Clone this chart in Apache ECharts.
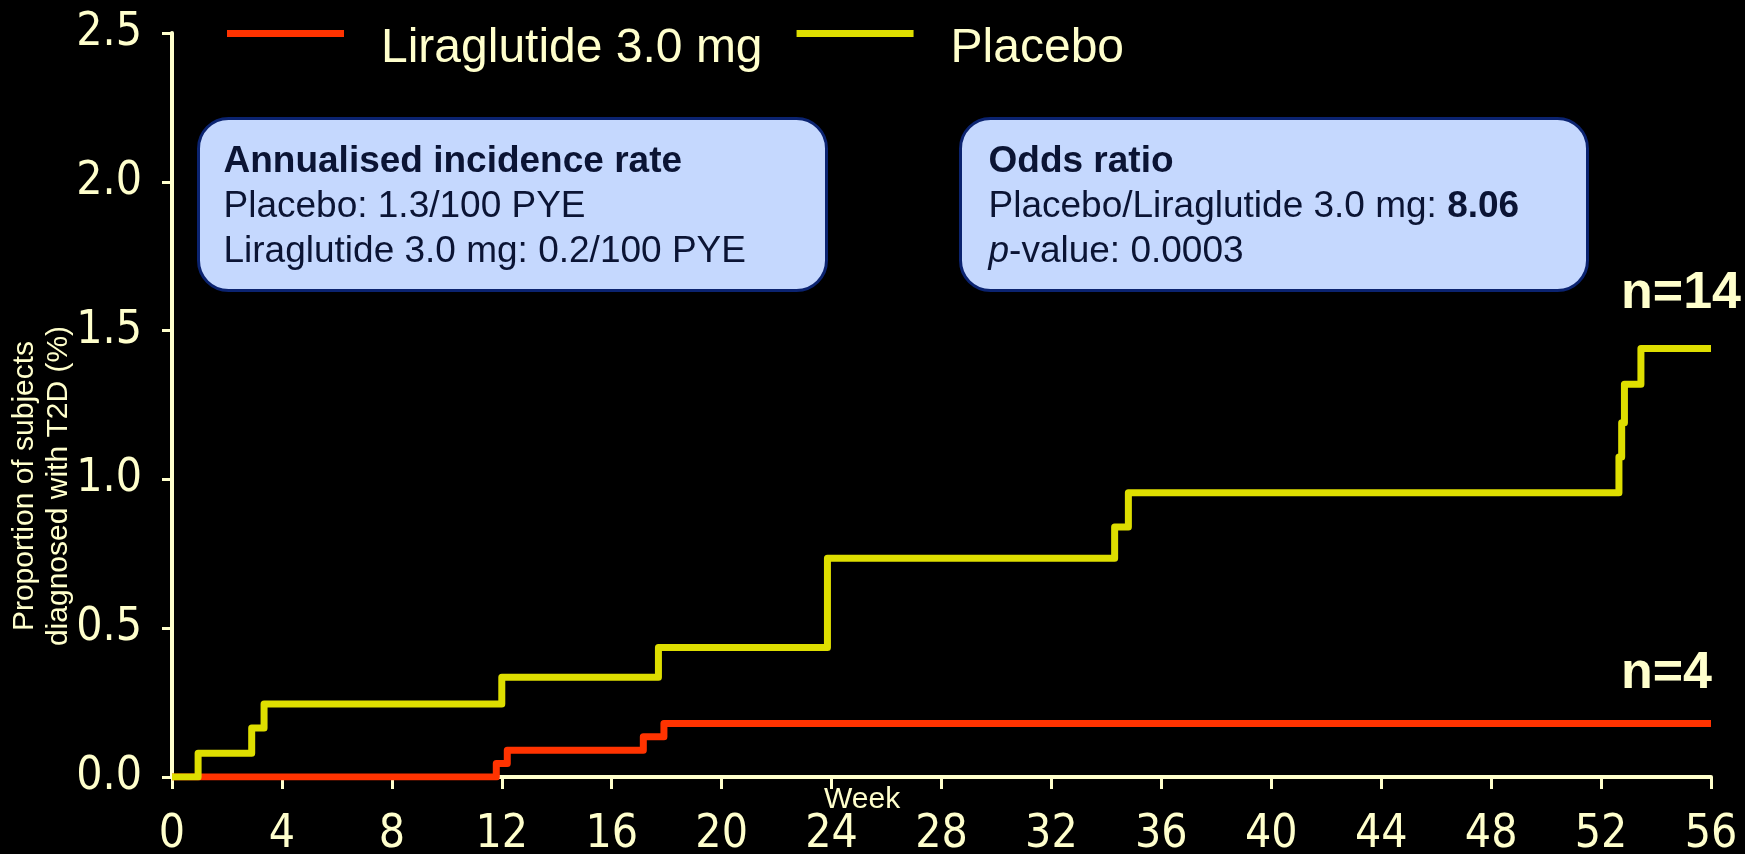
<!DOCTYPE html>
<html>
<head>
<meta charset="utf-8">
<script src="https://cdn.jsdelivr.net/npm/echarts@6/dist/echarts.min.js"></script>
<style>
  html, body { margin: 0; padding: 0; background: #000; }
  #chart { width: 1745px; height: 854px; }
</style>
</head>
<body>
<div id="chart"></div>
<script>
// week of each step and the cumulative proportion (%) after it
var placeboWeeks = [0, 0.95, 2.9, 3.35, 12.0, 17.7, 23.85, 34.3, 34.8, 52.65, 52.75, 52.85, 53.45, 56];
var placeboValues = [0, 0.08, 0.165, 0.245, 0.335, 0.435, 0.735, 0.84, 0.955, 1.075, 1.19, 1.32, 1.44, 1.44];
var liraWeeks = [0, 11.8, 12.2, 17.15, 17.9, 56];
var liraValues = [0, 0.045, 0.09, 0.135, 0.18, 0.18];
var seriesNames = ['Liraglutide 3.0 mg', 'Placebo'];
var endCounts = ['n=4', 'n=14'];

var axisColor = '#ffffcc';
var textDark = '#0b1434';
var tickFont = 'Liberation Sans Narrow, DejaVu Sans Condensed';

function pairs (xs, ys) {
  var res = [];
  for (var i = 0; i < xs.length; i++) res.push([xs[i], ys[i]]);
  return res;
}

var myChart = echarts.init(document.getElementById('chart'));

var option = {
  backgroundColor: '#000',
  animation: false,
  // labels may run to the bottom edge, keep the plot where it is
  grid: { left: 172, right: 34, top: 33, bottom: 77, outerBoundsMode: 'none' },
  legend: {
    data: seriesNames,
    left: 227,
    top: 25,
    padding: 0,
    // bar sits near the top of the text, like the slide
    icon: 'path://M0,0h117v7h-117zM0,38',
    itemWidth: 117,
    itemHeight: 38,
    itemGap: 34,
    textStyle: {
      color: axisColor,
      fontFamily: 'Liberation Sans, Arial',
      fontSize: 48,
      padding: [0, 0, 0, 32]
    }
  },
  xAxis: {
    type: 'value',
    min: 0,
    max: 56,
    interval: 4,
    splitLine: { show: false },
    axisLine: { lineStyle: { color: axisColor, width: 4 } },
    axisTick: { length: 12, lineStyle: { color: axisColor, width: 3 } },
    axisLabel: {
      color: axisColor,
      fontFamily: tickFont,
      fontSize: 46,
      margin: 35
    }
  },
  yAxis: {
    type: 'value',
    min: 0,
    max: 2.5,
    interval: 0.5,
    splitLine: { show: false },
    axisLine: { show: true, lineStyle: { color: axisColor, width: 4 } },
    axisTick: { show: true, length: 10, lineStyle: { color: axisColor, width: 3 } },
    axisLabel: {
      color: axisColor,
      fontFamily: tickFont,
      fontSize: 46,
      margin: 30,
      formatter: function (v) { return v.toFixed(1); }
    }
  },
  series: [
    {
      name: seriesNames[0],
      type: 'line',
      step: 'end',
      showSymbol: false,
      color: '#ff3300',
      lineStyle: { width: 7, join: 'round' },
      data: pairs(liraWeeks, liraValues)
    },
    {
      name: seriesNames[1],
      type: 'line',
      step: 'end',
      showSymbol: false,
      color: '#dede00',
      lineStyle: { width: 7, join: 'round' },
      data: pairs(placeboWeeks, placeboValues)
    }
  ],
  graphic: [
    {
      type: 'text',
      left: 824,
      top: 785,
      style: { text: 'Week', fill: axisColor, font: '30px "Liberation Sans", Arial' }
    },
    {
      type: 'text',
      x: 42,
      y: 486,
      rotation: Math.PI / 2,
      style: {
        text: 'Proportion of subjects\ndiagnosed with T2D (%)',
        fill: axisColor,
        font: '30px "Liberation Sans", Arial',
        align: 'center',
        verticalAlign: 'middle',
        lineHeight: 34
      }
    },
    {
      type: 'text',
      right: 4,
      top: 268,
      style: { text: endCounts[1], fill: axisColor, font: 'bold 52px "Liberation Sans", Arial' }
    },
    {
      type: 'text',
      right: 33,
      top: 648,
      style: { text: endCounts[0], fill: axisColor, font: 'bold 52px "Liberation Sans", Arial' }
    },
    {
      type: 'group',
      left: 197,
      top: 117,
      children: [
        {
          type: 'rect',
          shape: { x: 0, y: 0, width: 628, height: 172, r: 30 },
          style: { fill: '#c5d8fe', stroke: '#0b2370', lineWidth: 3 }
        },
        {
          type: 'text',
          x: 25,
          y: 21,
          style: {
            text: '{b|Annualised incidence rate}\n{n|Placebo: 1.3/100 PYE}\n{n|Liraglutide 3.0 mg: 0.2/100 PYE}',
            rich: {
              b: { fontFamily: 'Liberation Sans, Arial', fontWeight: 'bold', fontSize: 37, lineHeight: 45, fill: textDark },
              n: { fontFamily: 'Liberation Sans, Arial', fontSize: 37, lineHeight: 45, fill: textDark }
            }
          }
        }
      ]
    },
    {
      type: 'group',
      left: 959,
      top: 117,
      children: [
        {
          type: 'rect',
          shape: { x: 0, y: 0, width: 627, height: 172, r: 30 },
          style: { fill: '#c5d8fe', stroke: '#0b2370', lineWidth: 3 }
        },
        {
          type: 'text',
          x: 28,
          y: 21,
          style: {
            text: '{b|Odds ratio}\n{n|Placebo/Liraglutide 3.0 mg: }{b|8.06}\n{i|p}{n|-value: 0.0003}',
            rich: {
              b: { fontFamily: 'Liberation Sans, Arial', fontWeight: 'bold', fontSize: 37, lineHeight: 45, fill: textDark },
              n: { fontFamily: 'Liberation Sans, Arial', fontSize: 37, lineHeight: 45, fill: textDark },
              i: { fontFamily: 'Liberation Sans, Arial', fontStyle: 'italic', fontSize: 37, lineHeight: 45, fill: textDark }
            }
          }
        }
      ]
    }
  ]
};

myChart.setOption(option);
window.onresize = function () { myChart.resize(); };
</script>
</body>
</html>
